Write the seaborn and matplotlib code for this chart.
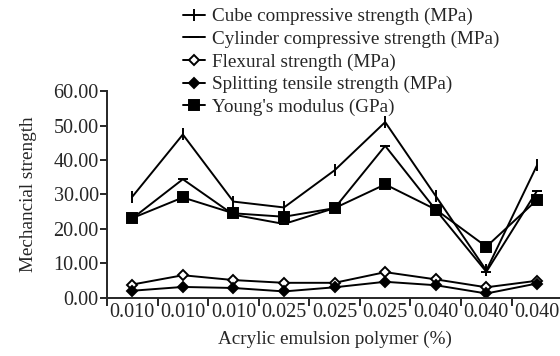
"""Mechanical strength vs acrylic emulsion polymer dosage."""

import matplotlib

matplotlib.use("Agg")
import matplotlib.pyplot as plt
import pandas as pd
import seaborn as sns
from matplotlib.ticker import FixedLocator

sns.set_style("ticks")
plt.rcParams["font.family"] = ["Liberation Serif", "DejaVu Serif"]

FS = 13.8
TICK_FS = 14.5

# categories (x)
dosage = ["0.010", "0.010", "0.010", "0.025", "0.025", "0.025", "0.040", "0.040", "0.040"]

# series values
cube = [29.3, 47.4, 27.9, 26.2, 37.0, 51.0, 29.5, 7.9, 38.4]
cylinder = [23.0, 34.4, 24.1, 21.4, 26.0, 44.1, 25.5, 7.5, 31.0]
flexural = [3.8, 6.5, 5.1, 4.3, 4.3, 7.4, 5.3, 3.0, 4.9]
splitting = [2.0, 3.1, 2.8, 1.8, 3.0, 4.6, 3.6, 1.2, 4.1]
young = [23.1, 29.1, 24.5, 23.5, 26.0, 32.9, 25.6, 14.8, 28.4]

series_names = [
    "Cube compressive strength (MPa)",
    "Cylinder compressive strength (MPa)",
    "Flexural strength (MPa)",
    "Splitting tensile strength (MPa)",
    "Young's modulus (GPa)",
]
series_values = [cube, cylinder, flexural, splitting, young]

rows = []
for name, vals in zip(series_names, series_values):
    for i, v in enumerate(vals):
        rows.append({"pos": i, "value": v, "series": name})
df = pd.DataFrame(rows)

markers = {
    series_names[0]: "|",
    series_names[1]: "_",
    series_names[2]: "D",
    series_names[3]: "D",
    series_names[4]: "s",
}
msizes = {
    series_names[0]: 9,
    series_names[1]: 7,
    series_names[2]: 5.5,
    series_names[3]: 5.5,
    series_names[4]: 7.5,
}

fig = plt.figure(figsize=(5.6, 3.56), dpi=100)
ax = fig.add_axes([0.191, 0.164, 0.813, 0.580])

for name in series_names:
    sub = df[df["series"] == name]
    face = "white" if name == series_names[2] else "black"
    sns.lineplot(
        data=sub,
        x="pos",
        y="value",
        color="black",
        linewidth=1.4,
        marker=markers[name],
        markersize=msizes[name],
        markerfacecolor=face,
        markeredgecolor="black",
        markeredgewidth=1.4,
        label=name,
        ax=ax,
    )

ax.set_xlim(-0.5, 8.5)
ax.set_ylim(0, 60)
ax.set_yticks(range(0, 61, 10))
ax.set_yticklabels([f"{v:.2f}" for v in range(0, 61, 10)])
ax.set_xticks(range(len(dosage)))
ax.set_xticklabels(dosage)
ax.xaxis.set_minor_locator(FixedLocator([i - 0.5 for i in range(len(dosage))]))
ax.tick_params(axis="x", which="major", length=0, pad=4, labelsize=TICK_FS)
ax.tick_params(axis="x", which="minor", length=6, width=1.4, direction="out")
ax.tick_params(axis="y", length=5, width=1.4, labelsize=TICK_FS, pad=1)
for s in ("left", "bottom"):
    ax.spines[s].set_linewidth(1.4)
sns.despine(ax=ax)

ax.set_xlabel("Acrylic emulsion polymer (%)", fontsize=FS, labelpad=6)
ax.set_ylabel("Mechancial strength", fontsize=FS, labelpad=12)

ax.legend(
    loc="upper left",
    bbox_to_anchor=(0.327, 0.978),
    bbox_transform=fig.transFigure,
    frameon=False,
    fontsize=FS,
    handlelength=1.15,
    handletextpad=0.35,
    labelspacing=0.27,
    borderpad=0,
    borderaxespad=0,
)

fig.savefig("out.png", dpi=100)
